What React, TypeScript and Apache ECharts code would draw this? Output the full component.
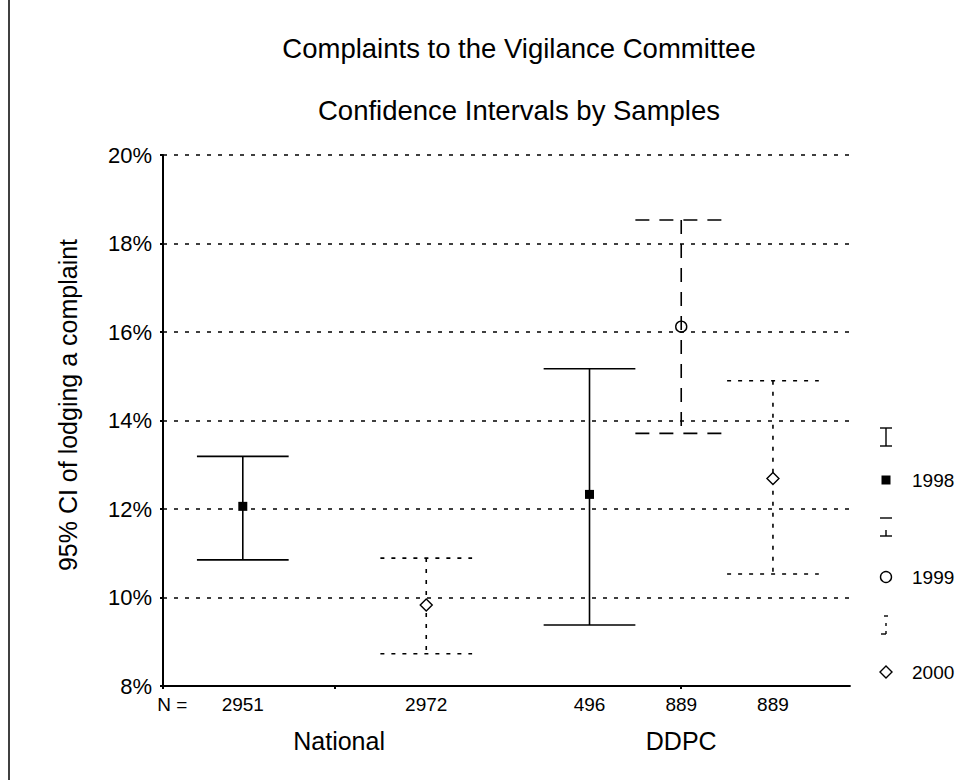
import React, { useEffect, useRef } from "react";
import * as echarts from "echarts";

// ---- data ----
const TITLE = "Complaints to the Vigilance Committee";
const SUBTITLE = "Confidence Intervals by Samples";
const Y_NAME = "95% CI of lodging a complaint";
const GROUPS = ["National", "DDPC"];
const YEARS = ["1998", "1999", "2000"];
const N_LABELS = ["2951", "2972", "496", "889", "889"];
const BAR_GROUP = ["National", "National", "DDPC", "DDPC", "DDPC"];
const BAR_YEAR = ["1998", "2000", "1998", "1999", "2000"];
const CI_LOW = [10.85, 8.73, 9.38, 13.71, 10.53];
const CI_MEAN = [12.06, 9.83, 12.33, 16.12, 12.69];
const CI_HIGH = [13.19, 10.89, 15.17, 18.53, 14.9];

// ---- layout (x slots on a value axis) ----
const SLOT_X = [0.87, 2.87, 4.65, 5.65, 6.65];
const GROUP_X = [1.92, 5.65];
const N_EQ_X = 0.1;
const MID_TICK_X = 1.87;
const X_MIN = 0;
const X_MAX = 7.49;
const FONT = "'Liberation Sans', Arial, sans-serif";
const NARROW = "'Liberation Sans Narrow', 'Liberation Sans', Arial, sans-serif";

const YEAR_STYLE: Record<string, { dash: number[] | null; width: number }> = {
  "1998": { dash: null, width: 1.6 },
  "1999": { dash: [14, 10], width: 1.6 },
  "2000": { dash: [4, 7], width: 1.6 },
};

function marker(year: string, cx: number, cy: number) {
  if (year === "1998") {
    return { type: "rect", shape: { x: cx - 4.5, y: cy - 4.5, width: 9, height: 9 }, style: { fill: "#000" } };
  }
  if (year === "1999") {
    return { type: "circle", shape: { cx, cy, r: 5.5 }, style: { fill: "none", stroke: "#000", lineWidth: 1.4 } };
  }
  return {
    type: "polygon",
    shape: { points: [[cx, cy - 6], [cx + 6, cy], [cx, cy + 6], [cx - 6, cy]] },
    style: { fill: "#fff", stroke: "#000", lineWidth: 1.4 },
  };
}

function legendBar(year: string, cx: number, cy: number) {
  const st: any = { stroke: "#000", lineWidth: 1.4 };
  const t = cy - 9;
  const b = cy + 9;
  if (year === "1998") {
    return [
      { type: "line", shape: { x1: cx, y1: t, x2: cx, y2: b }, style: st },
      { type: "line", shape: { x1: cx - 6, y1: t, x2: cx + 6, y2: t }, style: st },
      { type: "line", shape: { x1: cx - 6, y1: b, x2: cx + 6, y2: b }, style: st },
    ];
  }
  if (year === "1999") {
    return [
      { type: "line", shape: { x1: cx - 6, y1: t, x2: cx + 6, y2: t }, style: st },
      { type: "line", shape: { x1: cx, y1: b - 6, x2: cx, y2: b }, style: st },
      { type: "line", shape: { x1: cx - 6, y1: b, x2: cx + 6, y2: b }, style: st },
    ];
  }
  return [
    { type: "line", shape: { x1: cx - 2, y1: t, x2: cx + 2, y2: t }, style: st },
    { type: "line", shape: { x1: cx, y1: cy - 2, x2: cx, y2: cy + 1 }, style: st },
    { type: "line", shape: { x1: cx, y1: b - 3, x2: cx, y2: b }, style: st },
    { type: "line", shape: { x1: cx - 5, y1: b, x2: cx, y2: b }, style: st },
  ];
}

export default function App() {
  const ref = useRef<HTMLDivElement>(null);
  useEffect(() => {
    if (!ref.current) return;
    const chart = echarts.init(ref.current, undefined, { renderer: "svg" });

    const series = YEARS.map((year) => {
      const data: number[][] = [];
      BAR_YEAR.forEach((y, i) => {
        if (y === year) data.push([SLOT_X[i], CI_LOW[i], CI_MEAN[i], CI_HIGH[i]]);
      });
      const st = YEAR_STYLE[year];
      return {
        type: "custom",
        name: year,
        data,
        encode: { x: 0, y: [1, 2, 3] },
        renderItem: (params: any, api: any) => {
          const x = api.value(0);
          const lo = api.coord([x, api.value(1)]);
          const mid = api.coord([x, api.value(2)]);
          const hi = api.coord([x, api.value(3)]);
          const hw = api.size([0.5, 0])[0];
          const ls: any = { stroke: "#000", lineWidth: st.width, fill: "none" };
          if (st.dash) ls.lineDash = st.dash;
          return {
            type: "group",
            children: [
              { type: "line", shape: { x1: lo[0], y1: hi[1], x2: lo[0], y2: lo[1] }, style: ls },
              { type: "line", shape: { x1: hi[0] - hw, y1: hi[1], x2: hi[0] + hw, y2: hi[1] }, style: ls },
              { type: "line", shape: { x1: lo[0] - hw, y1: lo[1], x2: lo[0] + hw, y2: lo[1] }, style: ls },
              marker(year, mid[0], mid[1]),
            ],
          };
        },
      };
    });

    const findIdx = (arr: number[], v: number) => arr.findIndex((a) => Math.abs(a - v) < 1e-6);

    // legend graphics
    const legendTop = [437, 527, 625];
    const legendMark = [480, 577, 672];
    const legend: any[] = [];
    YEARS.forEach((year, k) => {
      const cx = 886;
      legend.push(...legendBar(year, cx, legendTop[k]));
      legend.push(marker(year, cx, legendMark[k]));
      legend.push({
        type: "text",
        x: 912,
        y: legendMark[k],
        style: { text: year, font: `19px ${FONT}`, fill: "#000", verticalAlign: "middle", align: "left" },
      });
    });

    chart.setOption({
      animation: false,
      backgroundColor: "#fff",
      title: [
        { text: TITLE, left: 514, top: 29, textAlign: "center", textStyle: { fontFamily: FONT, fontSize: 27.5, fontWeight: "normal", color: "#000" } },
        { text: SUBTITLE, left: 514, top: 91, textAlign: "center", textStyle: { fontFamily: FONT, fontSize: 27.5, fontWeight: "normal", color: "#000" } },
      ],
      grid: { left: 163, right: 122, top: 155, bottom: 94, containLabel: false },
      xAxis: [
        {
          type: "value",
          min: X_MIN,
          max: X_MAX,
          splitLine: { show: false },
          axisLine: { show: true, lineStyle: { color: "#000", width: 1.8 } },
          axisTick: { show: true, customValues: [X_MIN, MID_TICK_X, SLOT_X[3]], length: 3, lineStyle: { color: "#000", width: 2 } },
          axisLabel: {
            customValues: [N_EQ_X, ...SLOT_X],
            margin: 9,
            fontFamily: NARROW,
            fontSize: 19,
            color: "#000",
            formatter: (v: number) => {
              if (Math.abs(v - N_EQ_X) < 1e-6) return "N =";
              const i = findIdx(SLOT_X, v);
              return i >= 0 ? N_LABELS[i] : "";
            },
          },
        },
        {
          type: "value",
          min: X_MIN,
          max: X_MAX,
          position: "bottom",
          splitLine: { show: false },
          axisLine: { show: false },
          axisTick: { show: false },
          axisLabel: {
            customValues: GROUP_X,
            margin: 42,
            fontFamily: FONT,
            fontSize: 25,
            color: "#000",
            formatter: (v: number) => {
              const i = findIdx(GROUP_X, v);
              return i >= 0 ? GROUPS[i] : "";
            },
          },
        },
      ],
      yAxis: {
        type: "value",
        position: "left",
        min: 8,
        max: 20,
        interval: 2,
        axisLine: { show: true, lineStyle: { color: "#000", width: 2 } },
        axisTick: { show: true, length: 3, lineStyle: { color: "#000", width: 2 } },
        axisLabel: { formatter: "{value}%", margin: 11, fontFamily: FONT, fontSize: 22, color: "#000" },
        splitLine: { show: true, lineStyle: { color: "#000", type: [4, 7], width: 1.5 } },
      },
      graphic: [
        { type: "line", shape: { x1: 9, y1: 0, x2: 9, y2: 780 }, style: { stroke: "#000", lineWidth: 1.5 } },
        {
          type: "text",
          x: 68,
          y: 405,
          rotation: Math.PI / 2,
          style: { text: Y_NAME, font: `25px ${FONT}`, fill: "#000", align: "center", verticalAlign: "middle" },
        },
        ...legend,
      ],
      series,
    });
    return () => chart.dispose();
  }, []);
  return <div ref={ref} style={{ position: "fixed", left: 0, top: 0, width: 972, height: 780 }} />;
}
